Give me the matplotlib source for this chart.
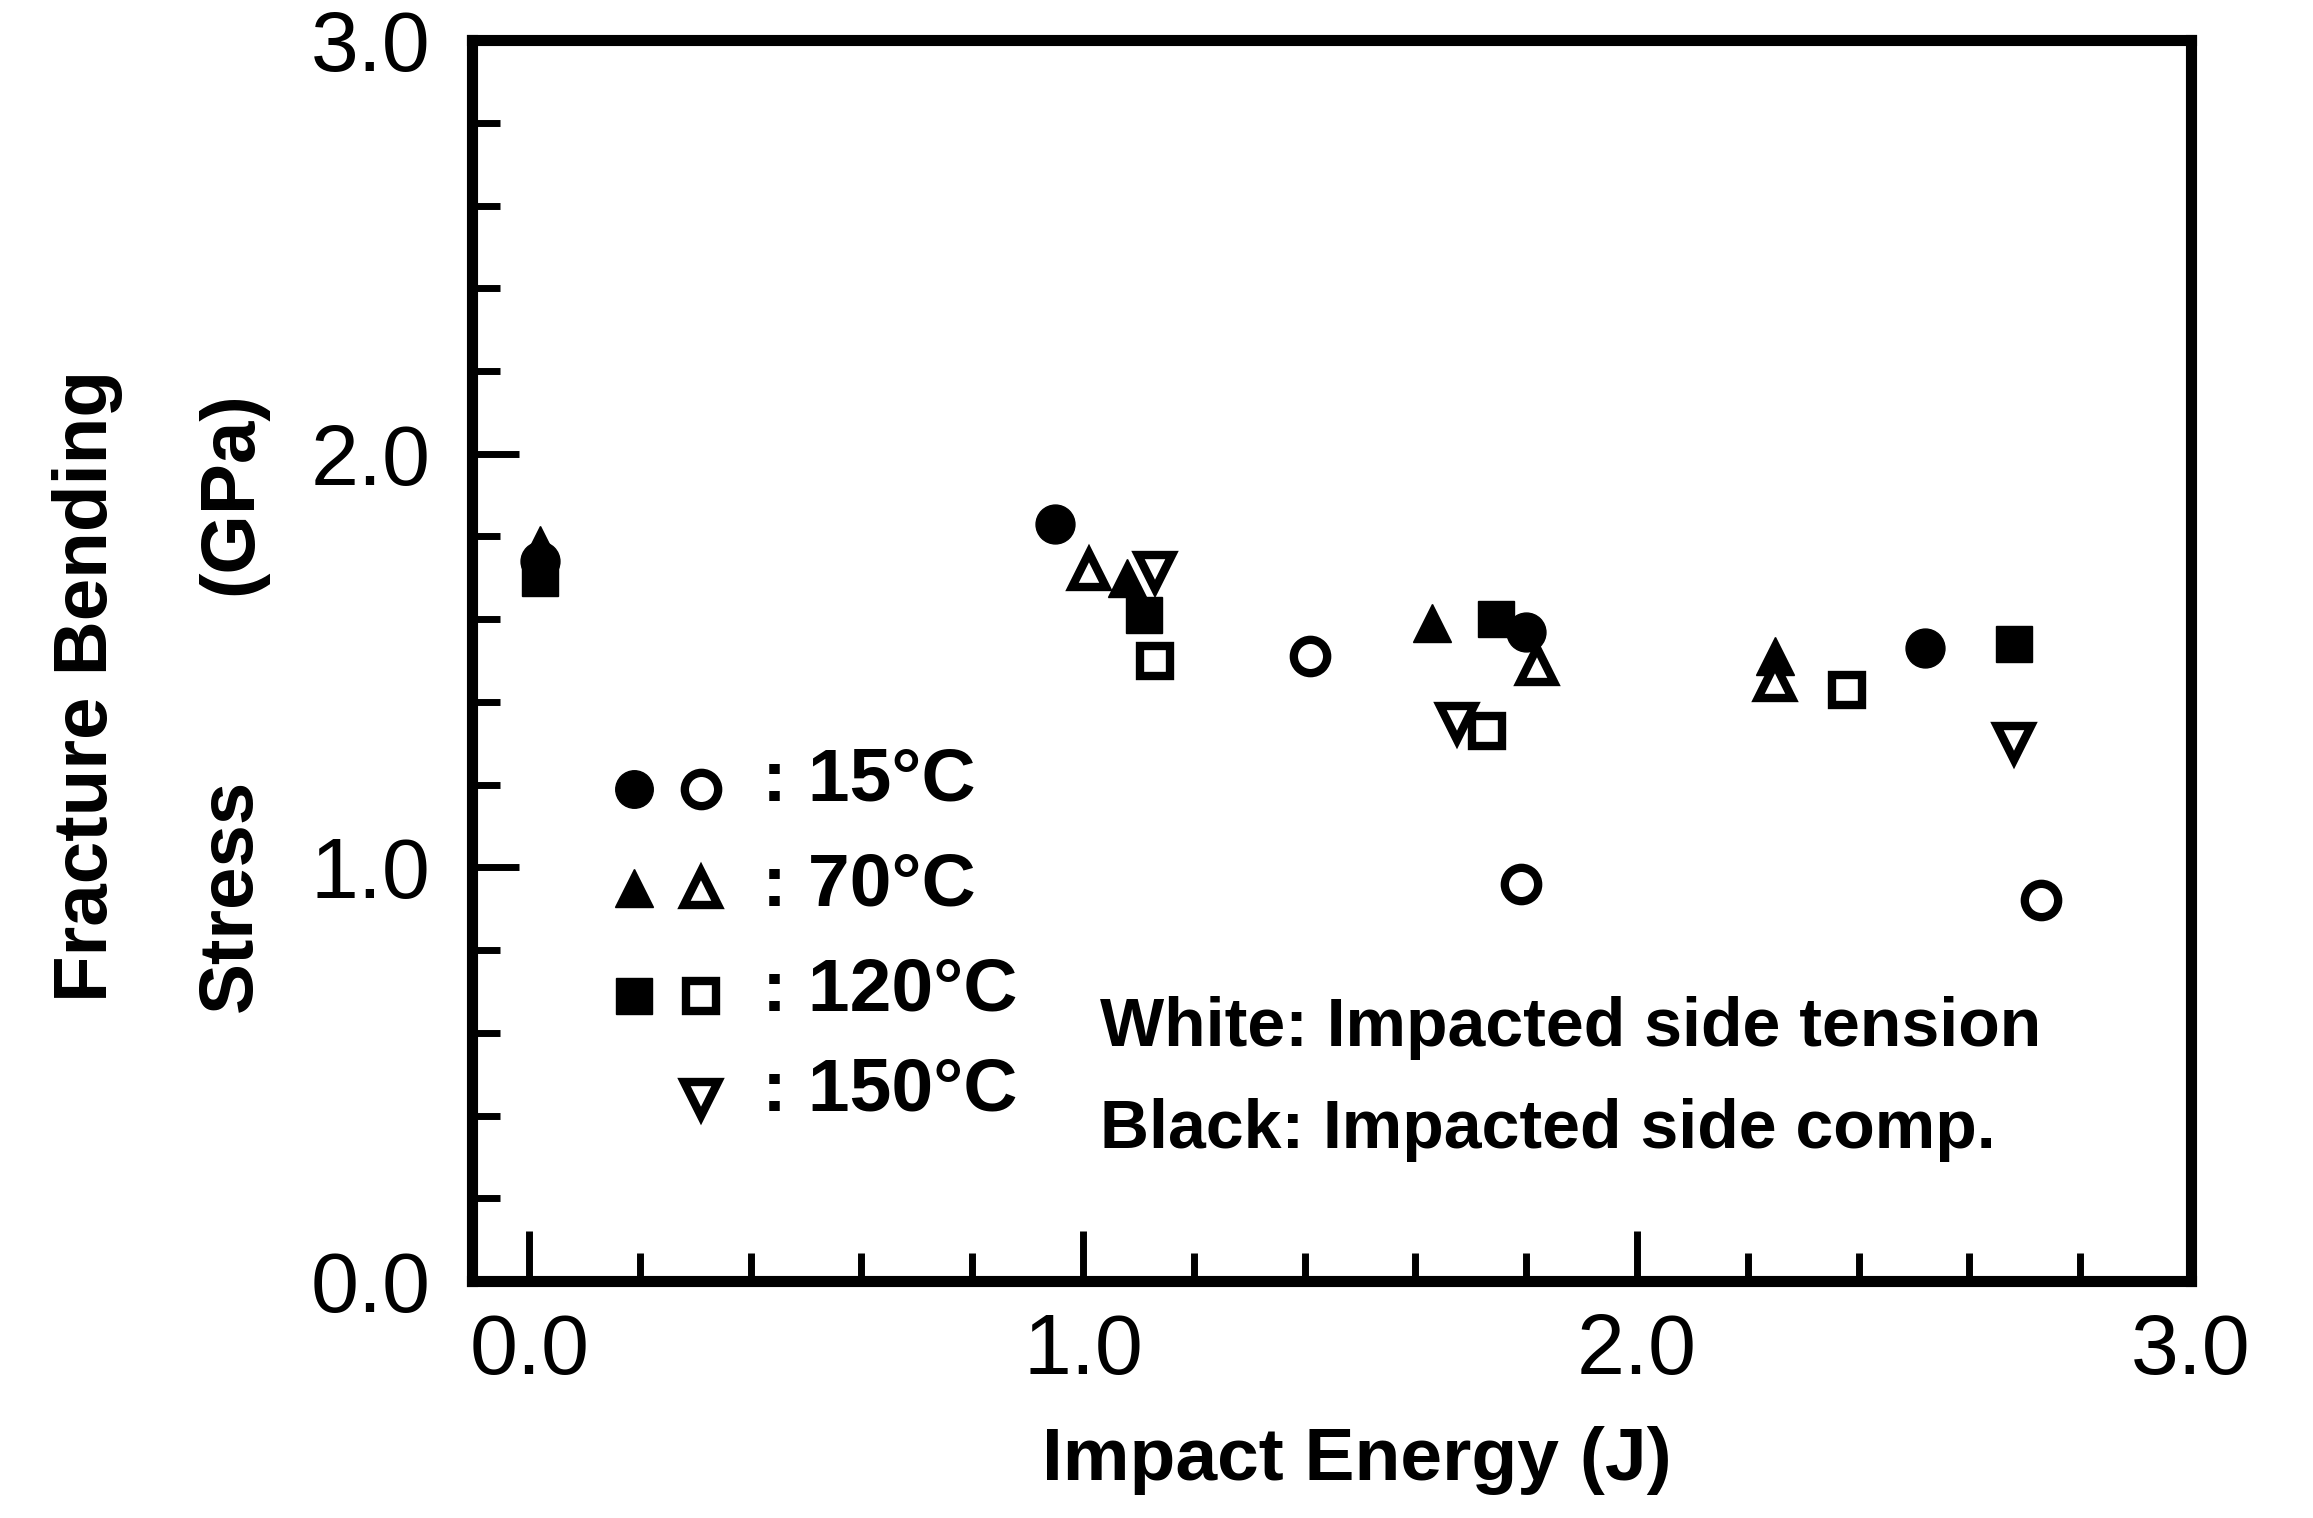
import matplotlib
matplotlib.use("Agg")
import matplotlib.pyplot as plt
from matplotlib.ticker import MultipleLocator, FixedLocator

plt.rcParams['font.family'] = ['Liberation Sans', 'DejaVu Sans']
plt.rcParams['font.weight'] = 'bold'

# ---- data ----
filled_15_x = [0.02, 0.95, 1.80, 2.52]
filled_15_y = [1.74, 1.83, 1.57, 1.53]
open_15_x = [1.41, 1.79, 2.73]
open_15_y = [1.51, 0.96, 0.92]

filled_70_x = [0.02, 1.08, 1.63, 2.25]
filled_70_y = [1.78, 1.70, 1.59, 1.51]
open_70_x = [1.01, 1.82, 2.25]
open_70_y = [1.72, 1.49, 1.45]

filled_120_x = [0.02, 1.11, 1.745, 2.68]
filled_120_y = [1.70, 1.61, 1.60, 1.54]
open_120_x = [1.13, 1.73, 2.38]
open_120_y = [1.50, 1.33, 1.43]

open_150_x = [1.13, 1.675, 2.68]
open_150_y = [1.715, 1.35, 1.30]

x_ticks = [0.0, 1.0, 2.0, 3.0]
x_ticklabels = ["0.0", "1.0", "2.0", "3.0"]
y_ticks = [0.0, 1.0, 2.0, 3.0]
y_ticklabels = ["0.0", "1.0", "2.0", "3.0"]

legend_labels = [": 15\u00b0C", ": 70\u00b0C", ": 120\u00b0C", ": 150\u00b0C"]
note_lines = ["White: Impacted side tension", "Black: Impacted side comp."]

# ---- figure ----
fig = plt.figure(figsize=(23.13, 15.18), dpi=100)
ax = fig.add_axes([0.2041, 0.1561, 0.7431, 0.8175])
ax.set_xlim(-0.103, 3.0)
ax.set_ylim(0, 3.0)

fs_kw = dict(ms=28, mew=1, mec='black', mfc='black', ls='none', color='black')
op_kw = dict(ms=24, mew=6, mec='black', mfc='white', ls='none', color='black')

ax.plot(filled_15_x, filled_15_y, marker='o', **fs_kw, zorder=3)
ax.plot(filled_70_x, filled_70_y, marker='^', **fs_kw, zorder=3)
ax.plot(filled_120_x, filled_120_y, marker='s', **dict(fs_kw, ms=26), zorder=3)
ax.plot(open_15_x, open_15_y, marker='o', **op_kw, zorder=4)
ax.plot(open_70_x, open_70_y, marker='^', **dict(op_kw, ms=25), zorder=4)
ax.plot(open_120_x, open_120_y, marker='s', **dict(op_kw, ms=22), zorder=4)
ax.plot(open_150_x, open_150_y, marker='v', **dict(op_kw, ms=25), zorder=5)

# ---- axes styling ----
for s in ax.spines.values():
    s.set_linewidth(8)
ax.xaxis.set_major_locator(FixedLocator(x_ticks))
ax.yaxis.set_major_locator(FixedLocator(y_ticks))
ax.xaxis.set_minor_locator(MultipleLocator(0.2))
ax.yaxis.set_minor_locator(MultipleLocator(0.2))
ax.set_xticklabels(x_ticklabels)
ax.set_yticklabels(y_ticklabels)
ax.tick_params(which='both', direction='in', top=False, right=False, width=5)
ax.tick_params(axis='x', which='major', length=36, labelsize=62, pad=22)
ax.tick_params(axis='x', which='minor', length=20)
ax.tick_params(axis='y', which='major', length=34, labelsize=62, pad=30)
ax.tick_params(axis='y', which='minor', length=20)
for lab in ax.get_xticklabels() + ax.get_yticklabels():
    lab.set_fontweight('normal')

fig.text(0.5867, 0.038, "Impact Energy (J)", fontsize=54, ha='center', va='center')
fig.text(0.038, 0.548, "Fracture Bending", fontsize=55, rotation=90, ha='center', va='center')
fig.text(0.100, 0.410, "Stress", fontsize=55, rotation=90, ha='center', va='center')
fig.text(0.100, 0.675, "(GPa)", fontsize=55, rotation=90, ha='center', va='center')

# ---- in-plot key ----
key_y = [1.19, 0.95, 0.69, 0.44]
key_text_y = [1.21, 0.955, 0.70, 0.46]
filled_markers = ['o', '^', 's', None]
open_markers = ['o', '^', 's', 'v']
for i in range(4):
    if filled_markers[i] is not None:
        ax.plot([0.19], [key_y[i]], marker=filled_markers[i],
                **dict(fs_kw, ms=27 if filled_markers[i] != 's' else 26))
    ax.plot([0.31], [key_y[i]], marker=open_markers[i],
            **dict(op_kw, ms=24 if open_markers[i] != 's' else 22))
    ax.text(0.42, key_text_y[i], legend_labels[i], fontsize=54, ha='left', va='center')

ax.text(1.03, 0.612, note_lines[0], fontsize=49, ha='left', va='center')
ax.text(1.03, 0.365, note_lines[1], fontsize=49, ha='left', va='center')

fig.savefig("out.png", dpi=100)
